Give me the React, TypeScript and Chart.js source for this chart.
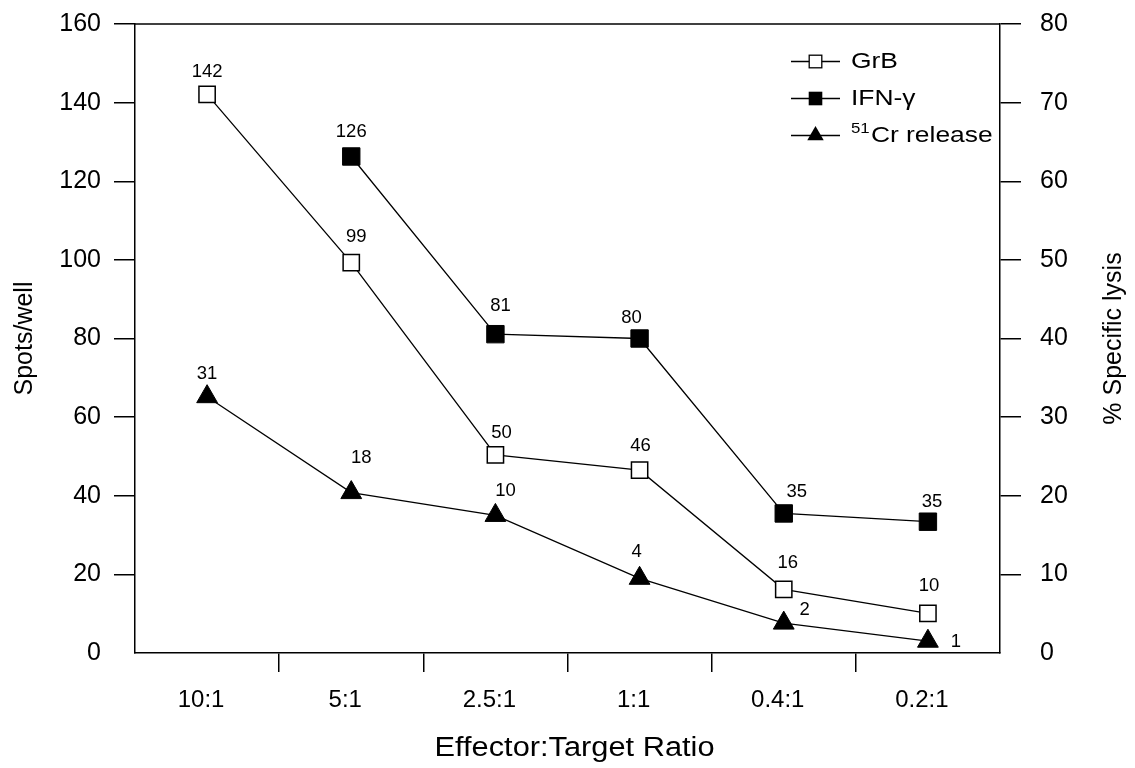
import React, { useEffect, useRef } from 'react';
import { Chart, registerables } from 'chart.js';

Chart.register(...registerables);

// ---------- data ----------
const categories = ['10:1', '5:1', '2.5:1', '1:1', '0.4:1', '0.2:1'];

const grbValues = [142.1, 99.3, 50.4, 46.5, 16.2, 10.1];
const grbLabels = ['142', '99', '50', '46', '16', '10'];

const ifnValues = [null, 126.3, 81.1, 80.0, 35.5, 33.4];
const ifnLabels = ['', '126', '81', '80', '35', '35'];

const crValues = [32.6, 20.4, 17.5, 9.5, 3.8, 1.5];
const crLabels = ['31', '18', '10', '4', '2', '1'];

const seriesNames = ['GrB', 'IFN-γ', 'Cr release'];
const seriesSuperscripts = ['', '', '51'];

const leftAxisMax = 160;
const leftAxisStep = 20;
const rightAxisMax = 80;
const rightAxisStep = 10;

const xTitle = 'Effector:Target Ratio';
const leftTitle = 'Spots/well';
const rightTitle = '% Specific lysis';

// ---------- styles ----------
const FONT = '"Liberation Sans", Arial, Helvetica, sans-serif';
const BLACK = '#000000';
const CLEAR = 'rgba(0,0,0,0)';

const grbLabelOffsets = [[0, -22], [5, -26], [6, -22], [1, -24], [4, -26], [1, -27]];
const ifnLabelOffsets = [[0, 0], [0, -25], [5, -28], [-8, -21], [13, -22], [4, -20]];
const crLabelOffsets = [[0, -23], [10, -35], [10, -25], [-3, -26], [21, -13], [28, 1]];

const pointTexts = [grbLabels, ifnLabels, crLabels];
const pointTextOffsets = [grbLabelOffsets, ifnLabelOffsets, crLabelOffsets];

const decorPlugin = {
  id: 'decor',
  afterDatasetsDraw(chart: any) {
    const ctx = chart.ctx;
    ctx.save();
    ctx.fillStyle = BLACK;
    ctx.font = `18.5px ${FONT}`;
    ctx.textAlign = 'center';
    ctx.textBaseline = 'middle';
    chart.data.datasets.forEach((_ds: any, di: number) => {
      const meta = chart.getDatasetMeta(di);
      meta.data.forEach((pt: any, i: number) => {
        const t = pointTexts[di][i];
        if (!t) return;
        const off = pointTextOffsets[di][i];
        ctx.fillText(t, pt.x + off[0], pt.y + off[1]);
      });
    });
    ctx.restore();
  },
  afterDraw(chart: any) {
    const ctx = chart.ctx;
    const area = chart.chartArea;
    ctx.save();
    // top frame line
    ctx.strokeStyle = BLACK;
    ctx.lineWidth = 1.5;
    ctx.beginPath();
    ctx.moveTo(area.left, area.top);
    ctx.lineTo(area.right, area.top);
    ctx.stroke();
    ctx.restore();

    // right axis title (reads bottom-to-top)
    ctx.save();
    ctx.fillStyle = BLACK;
    ctx.font = `25px ${FONT}`;
    ctx.textAlign = 'center';
    ctx.textBaseline = 'middle';
    ctx.translate(1114, (area.top + area.bottom) / 2);
    ctx.rotate(-Math.PI / 2);
    ctx.fillText(rightTitle, 0, 0);
    ctx.restore();

    // x axis title (slightly wide lettering as in the source figure)
    ctx.save();
    ctx.fillStyle = BLACK;
    ctx.font = `27px ${FONT}`;
    ctx.textAlign = 'center';
    ctx.textBaseline = 'middle';
    ctx.translate((area.left + area.right) / 2 + 7, 749);
    ctx.scale(1.14, 1);
    ctx.fillText(xTitle, 0, 0);
    ctx.restore();

    // legend
    ctx.save();
    const lx = area.right - 209;
    const lineLen = 49;
    const textX = area.right - 149;
    const rowY0 = area.top + 37.5;
    const rowGap = 37;
    for (let i = 0; i < seriesNames.length; i++) {
      const y = rowY0 + i * rowGap;
      const cx = lx + lineLen / 2;
      ctx.strokeStyle = BLACK;
      ctx.lineWidth = 1.3;
      ctx.beginPath();
      ctx.moveTo(lx, y);
      ctx.lineTo(lx + lineLen, y);
      ctx.stroke();
      if (i === 0) {
        ctx.fillStyle = '#ffffff';
        ctx.fillRect(cx - 6.3, y - 6.3, 12.6, 12.6);
        ctx.lineWidth = 1.3;
        ctx.strokeRect(cx - 6.3, y - 6.3, 12.6, 12.6);
      } else if (i === 1) {
        ctx.fillStyle = BLACK;
        ctx.fillRect(cx - 6.8, y - 6.8, 13.6, 13.6);
      } else {
        const r = 9.5;
        ctx.fillStyle = BLACK;
        ctx.beginPath();
        ctx.moveTo(cx, y - r);
        ctx.lineTo(cx + r * 0.866, y + r / 2);
        ctx.lineTo(cx - r * 0.866, y + r / 2);
        ctx.closePath();
        ctx.fill();
      }
      ctx.save();
      ctx.translate(textX, y);
      ctx.scale(1.2, 1);
      ctx.fillStyle = BLACK;
      ctx.textAlign = 'left';
      ctx.textBaseline = 'middle';
      let tx = 0;
      if (seriesSuperscripts[i]) {
        ctx.font = `14px ${FONT}`;
        ctx.fillText(seriesSuperscripts[i], tx, -6);
        tx += ctx.measureText(seriesSuperscripts[i]).width + 1;
      }
      ctx.font = `22px ${FONT}`;
      ctx.fillText(seriesNames[i], tx, 0);
      ctx.restore();
    }
    ctx.restore();
  },
};

export default function App() {
  const canvasRef = useRef<HTMLCanvasElement | null>(null);

  useEffect(() => {
    document.body.style.margin = '0';
    const canvas = canvasRef.current;
    if (!canvas) return;

    const yGridColor = (c: any) => (c.tick && c.tick.value === 0 ? CLEAR : BLACK);

    const chart = new Chart(canvas, {
      type: 'line',
      data: {
        labels: categories,
        datasets: [
          {
            label: seriesNames[0],
            data: grbValues,
            yAxisID: 'y',
            borderColor: BLACK,
            borderWidth: 1.3,
            pointStyle: 'rect',
            pointRadius: 11.5,
            pointBackgroundColor: '#ffffff',
            pointBorderColor: BLACK,
            pointBorderWidth: 1.5,
            fill: false,
            tension: 0,
          },
          {
            label: seriesNames[1],
            data: ifnValues,
            yAxisID: 'y',
            borderColor: BLACK,
            borderWidth: 1.3,
            pointStyle: 'rect',
            pointRadius: 12.3,
            pointBackgroundColor: BLACK,
            pointBorderColor: BLACK,
            pointBorderWidth: 1,
            fill: false,
            tension: 0,
          },
          {
            label: seriesSuperscripts[2] + seriesNames[2],
            data: crValues,
            yAxisID: 'y1',
            borderColor: BLACK,
            borderWidth: 1.3,
            pointStyle: 'triangle',
            pointRadius: 12,
            pointBackgroundColor: BLACK,
            pointBorderColor: BLACK,
            pointBorderWidth: 1,
            fill: false,
            tension: 0,
          },
        ],
      },
      options: {
        responsive: false,
        animation: false,
        devicePixelRatio: 1,
        layout: { padding: { top: 24, left: 0, right: 0, bottom: 0 } },
        plugins: {
          legend: { display: false },
          tooltip: { enabled: false },
        },
        scales: {
          x: {
            type: 'category',
            offset: true,
            grid: {
              offset: true,
              drawOnChartArea: false,
              drawTicks: true,
              tickLength: 19,
              lineWidth: 1.5,
              color: (c: any) => (c.type === 'tick' && c.index > 0 ? BLACK : CLEAR),
            },
            border: { display: true, color: BLACK, width: 1.5 },
            ticks: {
              color: BLACK,
              font: { family: FONT, size: 24 },
              padding: 14,
              labelOffset: -6,
              maxRotation: 0,
              autoSkip: false,
            },
            title: { display: false },
            afterFit: (s: any) => {
              s.height = 115;
              s.paddingLeft = 0;
              s.paddingRight = 0;
            },
          },
          y: {
            position: 'left',
            min: 0,
            max: leftAxisMax,
            ticks: {
              stepSize: leftAxisStep,
              color: BLACK,
              font: { family: FONT, size: 25 },
              padding: 13,
            },
            grid: {
              drawOnChartArea: false,
              tickLength: 21,
              lineWidth: 1.5,
              color: yGridColor,
            },
            border: { display: true, color: BLACK, width: 1.5 },
            title: {
              display: true,
              text: leftTitle,
              color: BLACK,
              font: { family: FONT, size: 25 },
              padding: { top: 10, bottom: 0 },
            },
            afterFit: (s: any) => {
              s.width = 135;
              s.paddingTop = 0;
              s.paddingBottom = 0;
            },
          },
          y1: {
            position: 'right',
            min: 0,
            max: rightAxisMax,
            ticks: {
              stepSize: rightAxisStep,
              color: BLACK,
              font: { family: FONT, size: 25 },
              padding: 19,
            },
            grid: {
              drawOnChartArea: false,
              tickLength: 21,
              lineWidth: 1.5,
              color: yGridColor,
            },
            border: { display: true, color: BLACK, width: 1.5 },
            title: { display: false },
            afterFit: (s: any) => {
              s.width = 135;
              s.paddingTop = 0;
              s.paddingBottom = 0;
            },
          },
        },
      } as any,
      plugins: [decorPlugin],
    });

    return () => {
      chart.destroy();
    };
  }, []);

  return (
    <div style={{ position: 'absolute', left: 0, top: 0, width: 1135, height: 768, background: '#ffffff' }}>
      <canvas ref={canvasRef} width={1135} height={768} />
    </div>
  );
}
